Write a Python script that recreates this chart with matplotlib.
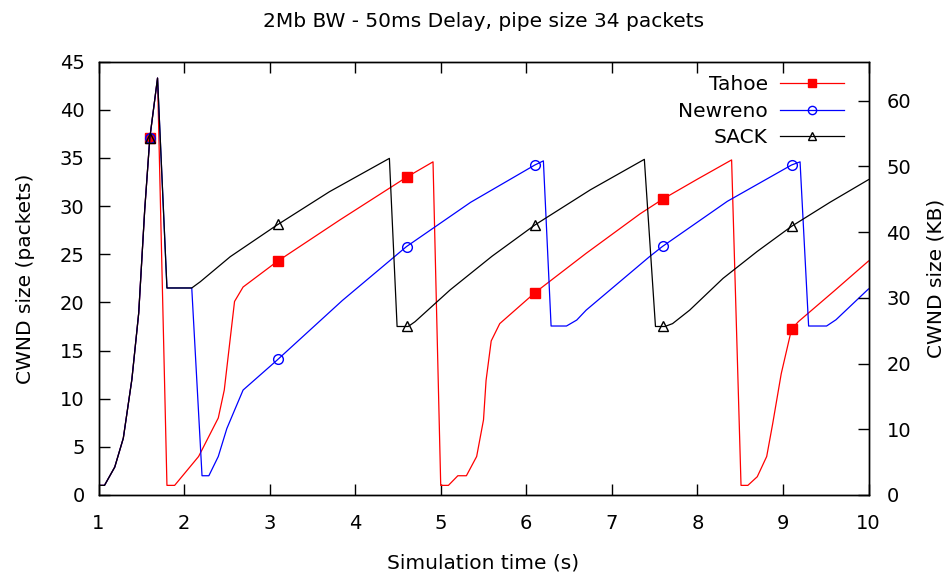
"""CWND over time for Tahoe, Newreno and SACK (2Mb BW, 50ms delay)."""

import matplotlib

matplotlib.use("Agg")

import matplotlib.pyplot as plt
import numpy as np
from matplotlib.lines import Line2D

# common slow start phase
start_t = [1.0, 1.07, 1.19, 1.29, 1.39, 1.47, 1.54, 1.60, 1.69]
start_w = [1.0, 1.0, 2.9, 5.9, 12.0, 18.9, 29.6, 37.1, 43.3]

tahoe_t = start_t + [1.80, 1.89, 2.17, 2.40, 2.47, 2.59, 2.69, 3.08, 3.82, 4.60, 4.91,
                     5.00, 5.09, 5.20, 5.30, 5.42, 5.50, 5.53, 5.59, 5.69, 6.10, 6.70, 7.33,
                     7.59, 8.00, 8.40, 8.51, 8.59, 8.70, 8.81, 8.88, 8.98, 9.10, 9.18, 9.60, 10.0]
tahoe_w = start_w + [1.0, 1.0, 4.0, 8.0, 10.9, 20.1, 21.6, 24.2, 28.56, 33.0, 34.6,
                     1.0, 1.0, 2.0, 2.0, 4.0, 7.8, 11.9, 16.0, 17.8, 21.0, 25.1, 29.2,
                     30.7, 32.8, 34.8, 1.0, 1.0, 1.9, 4.0, 7.4, 12.6, 17.2, 18.0, 21.2, 24.3]

newreno_t = start_t + [1.80, 2.09, 2.21, 2.29, 2.40, 2.50, 2.59, 2.69, 3.08, 3.85, 4.60,
                       5.35, 6.10, 6.20, 6.29, 6.47, 6.59, 6.70, 7.44, 7.59, 8.35, 9.10,
                       9.20, 9.30, 9.51, 9.62, 10.0]
newreno_w = start_w + [21.5, 21.5, 2.0, 2.0, 4.0, 6.9, 8.8, 10.9, 13.95, 20.2, 25.8,
                       30.4, 34.27, 34.7, 17.55, 17.55, 18.17, 19.2, 24.75, 25.8, 30.5, 34.27,
                       34.6, 17.55, 17.55, 18.2, 21.4]

sack_t = start_t + [1.80, 2.09, 2.19, 2.54, 3.08, 3.70, 4.40, 4.49, 4.62, 4.70, 5.11, 5.60,
                    6.10, 6.75, 7.38, 7.51, 7.62, 7.71, 7.91, 8.30, 8.70, 9.10, 9.55, 10.0]
sack_w = start_w + [21.5, 21.5, 22.15, 24.75, 28.0, 31.5, 34.96, 17.5, 17.5, 18.0, 21.3, 24.8,
                    28.04, 31.7, 34.86, 17.5, 17.5, 17.8, 19.2, 22.5, 25.3, 27.9, 30.4, 32.75]

mark_t = [1.6, 3.1, 4.6, 6.1, 7.6, 9.1]

series = [
    ("Tahoe", tahoe_t, tahoe_w, "#ff0000", "s", "#ff0000", 7.5),
    ("Newreno", newreno_t, newreno_w, "#0000ff", "o", "none", 7.0),
    ("SACK", sack_t, sack_w, "#000000", "^", "none", 7.0),
]

KB_PER_PACKET = 1500 / 1024

plt.rcParams["font.family"] = "DejaVu Sans"

fig = plt.figure(figsize=(9.52, 5.73), dpi=100)
ax = fig.add_axes([98.5 / 952, 1 - 495 / 573, 770 / 952, 433.3 / 573])

handles = []
for name, t, w, color, marker, face, ms in series:
    ax.plot(t, w, color=color, lw=0.9)
    mw = np.interp(mark_t, t, w)
    ax.plot(mark_t, mw, ls="none", marker=marker, ms=ms, mfc=face, mec=color, mew=1.0)
    handles.append(Line2D([], [], color=color, lw=0.9, marker=marker, ms=ms * 0.85,
                          mfc=face, mec=color, mew=1.0, label=name))

ax.set_xlim(1, 10)
ax.set_ylim(0, 45)
ax.set_xticks(range(1, 11))
ax.set_yticks(range(0, 46, 5))
ax.tick_params(direction="in", length=8, width=1, labelsize=14, top=True, right=False)
ax.tick_params(axis="x", pad=13.5)
ax.tick_params(axis="y", pad=10)
ax.set_xlabel("Simulation time (s)", fontsize=14.5, labelpad=15)
ax.set_ylabel("CWND size (packets)", fontsize=14.5, labelpad=18)
ax.set_title("2Mb BW - 50ms Delay, pipe size 34 packets", fontsize=14.5, pad=25)

ax2 = ax.twinx()
ax2.set_ylim(0, 45 * KB_PER_PACKET)
ax2.set_yticks(range(0, 61, 10))
ax2.tick_params(direction="in", length=8, width=1, labelsize=14, pad=13)
ax2.set_ylabel("CWND size (KB)", fontsize=14.5, labelpad=11)

for a in (ax, ax2):
    for s in a.spines.values():
        s.set_linewidth(1.0)

ax.legend(handles=handles, loc="upper right", bbox_to_anchor=(844.3 / 952, 1 - 75 / 573),
          bbox_transform=fig.transFigure, frameon=False, markerfirst=False, fontsize=14.5,
          handlelength=3.2, handletextpad=0.6, borderpad=0, borderaxespad=0, labelspacing=0.38)

fig.savefig("out.png", dpi=100)
